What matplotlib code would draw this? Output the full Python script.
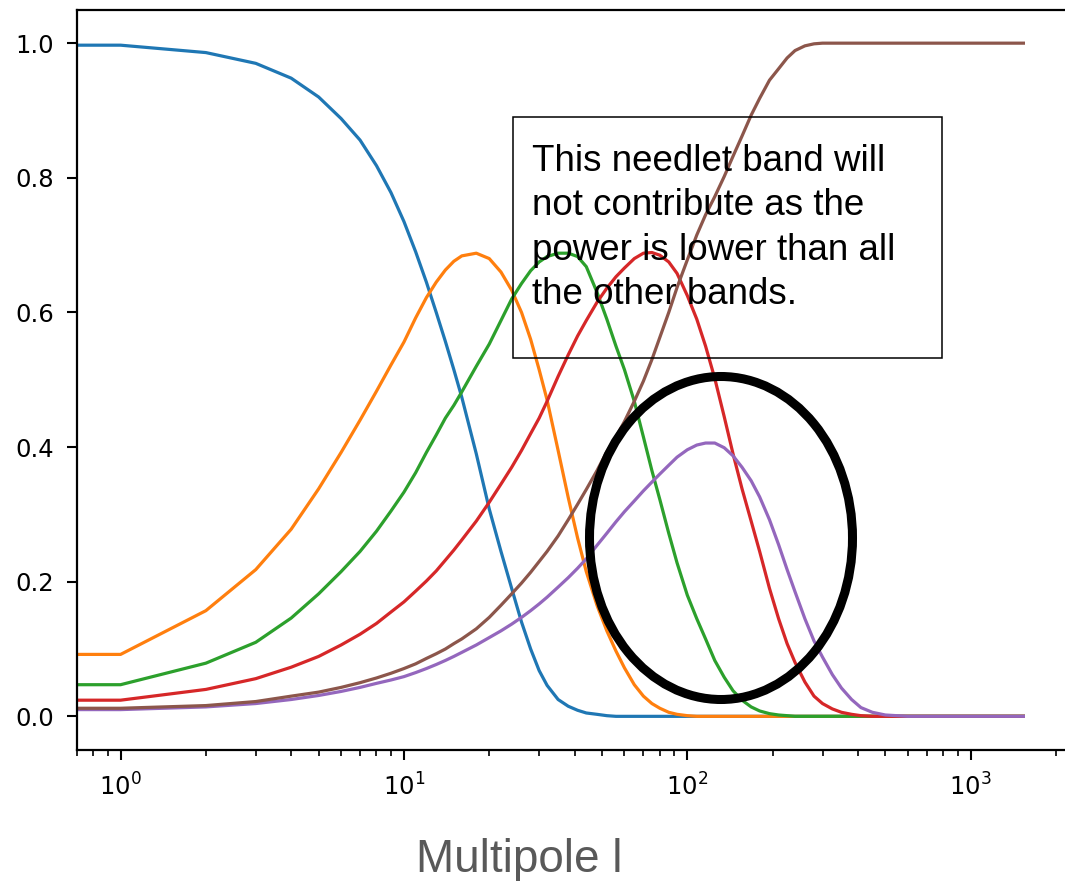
import numpy as np
import matplotlib
matplotlib.use("Agg")
import matplotlib.pyplot as plt
from matplotlib.patches import Ellipse, Rectangle

ell = [0, 1, 2, 3, 4, 5, 6, 7, 8, 9, 10, 11, 12, 13, 14, 15, 16, 18, 20, 22,
       24, 26, 28, 30, 32, 35, 38, 41, 44, 48, 52, 56, 60, 65, 70, 75, 80, 86,
       92, 100, 108, 116, 125, 135, 145, 156, 168, 180, 195, 210, 225, 240,
       260, 280, 300, 325, 350, 380, 410, 450, 500, 600, 800, 1000, 1535]

band0 = [0.997, 0.997, 0.986, 0.970, 0.948, 0.920, 0.888, 0.856, 0.818, 0.778,
         0.735, 0.690, 0.645, 0.600, 0.557, 0.515, 0.474, 0.390, 0.308, 0.245,
         0.190, 0.140, 0.100, 0.068, 0.046, 0.025, 0.015, 0.009, 0.005, 0.003,
         0.001, 0, 0, 0, 0, 0, 0, 0, 0, 0, 0, 0, 0, 0, 0, 0, 0, 0, 0, 0, 0, 0,
         0, 0, 0, 0, 0, 0, 0, 0, 0, 0, 0, 0, 0]
band1 = [0.092, 0.092, 0.157, 0.218, 0.278, 0.338, 0.392, 0.440, 0.483, 0.522,
         0.556, 0.592, 0.622, 0.645, 0.663, 0.676, 0.684, 0.688, 0.680, 0.660,
         0.633, 0.600, 0.560, 0.515, 0.470, 0.395, 0.325, 0.265, 0.215, 0.165,
         0.127, 0.097, 0.072, 0.047, 0.030, 0.019, 0.012, 0.006, 0.003, 0.001,
         0, 0, 0, 0, 0, 0, 0, 0, 0, 0, 0, 0, 0, 0, 0, 0, 0, 0, 0, 0, 0, 0, 0,
         0, 0]
band2 = [0.047, 0.047, 0.079, 0.110, 0.146, 0.182, 0.215, 0.245, 0.275, 0.305,
         0.333, 0.362, 0.392, 0.418, 0.443, 0.462, 0.482, 0.520, 0.553, 0.588,
         0.620, 0.643, 0.662, 0.675, 0.683, 0.688, 0.688, 0.683, 0.668, 0.630,
         0.590, 0.550, 0.515, 0.468, 0.415, 0.365, 0.322, 0.272, 0.228, 0.180,
         0.145, 0.115, 0.083, 0.058, 0.038, 0.024, 0.014, 0.008, 0.004, 0.002,
         0.001, 0, 0, 0, 0, 0, 0, 0, 0, 0, 0, 0, 0, 0, 0]
band3 = [0.024, 0.024, 0.040, 0.056, 0.073, 0.089, 0.106, 0.122, 0.138, 0.155,
         0.170, 0.186, 0.201, 0.216, 0.232, 0.247, 0.262, 0.290, 0.318, 0.345,
         0.370, 0.395, 0.420, 0.443, 0.468, 0.505, 0.537, 0.565, 0.588, 0.615,
         0.636, 0.653, 0.666, 0.680, 0.688, 0.689, 0.685, 0.675, 0.658, 0.625,
         0.590, 0.550, 0.502, 0.445, 0.390, 0.338, 0.290, 0.245, 0.190, 0.145,
         0.108, 0.080, 0.051, 0.030, 0.019, 0.011, 0.006, 0.003, 0.001, 0, 0,
         0, 0, 0, 0]
band4 = [0.010, 0.010, 0.014, 0.019, 0.025, 0.031, 0.037, 0.043, 0.049, 0.054,
         0.059, 0.065, 0.071, 0.077, 0.083, 0.089, 0.095, 0.106, 0.117, 0.127,
         0.137, 0.147, 0.157, 0.167, 0.177, 0.192, 0.206, 0.220, 0.234, 0.254,
         0.272, 0.289, 0.304, 0.320, 0.335, 0.348, 0.360, 0.373, 0.385, 0.396,
         0.403, 0.406, 0.406, 0.399, 0.387, 0.370, 0.350, 0.326, 0.292, 0.255,
         0.218, 0.185, 0.145, 0.112, 0.088, 0.062, 0.042, 0.025, 0.013, 0.006,
         0.002, 0, 0, 0, 0]
band5 = [0.012, 0.012, 0.016, 0.022, 0.030, 0.036, 0.043, 0.050, 0.057, 0.064,
         0.071, 0.078, 0.086, 0.093, 0.100, 0.108, 0.115, 0.130, 0.147, 0.165,
         0.182, 0.198, 0.214, 0.230, 0.245, 0.268, 0.292, 0.315, 0.337, 0.365,
         0.393, 0.415, 0.438, 0.468, 0.498, 0.530, 0.563, 0.600, 0.637, 0.678,
         0.715, 0.745, 0.772, 0.802, 0.832, 0.862, 0.893, 0.918, 0.945, 0.962,
         0.978, 0.989, 0.996, 0.999, 1.0, 1.0, 1.0, 1.0, 1.0, 1.0, 1.0, 1.0,
         1.0, 1.0, 1.0]

note_lines = ["This needlet band will",
              "not contribute as the",
              "power is lower than all",
              "the other bands."]

W, H = 1065, 881
fig = plt.figure(figsize=(W / 100, H / 100), dpi=100)
ax = fig.add_axes([76.7 / W, 131 / H, 1001.7 / W, 740.5 / H])

for band in [band0, band1, band2, band3, band4, band5]:
    ax.plot(ell, band, linewidth=2.3)

ax.set_xscale("log")
ax.set_xlim(0.7, 2400)
ax.set_ylim(-0.05, 1.05)
ax.set_yticks([0.0, 0.2, 0.4, 0.6, 0.8, 1.0])
ax.tick_params(which="major", labelsize=17.5, length=7.5, width=1.5, pad=9)
ax.tick_params(which="minor", length=4.5, width=1.2)
for sp in ax.spines.values():
    sp.set_linewidth(1.6)

# annotation box and circle, in figure pixels
fig.add_artist(Rectangle((513 / W, 1 - 358 / H), 429 / W, 241 / H,
                         transform=fig.transFigure, fill=False,
                         edgecolor="black", linewidth=1.1))
for i, line in enumerate(note_lines):
    fig.text(532 / W, 1 - (171 + 44.3 * i) / H, line, fontsize=26.5,
             family="Liberation Sans", va="baseline", ha="left")
fig.add_artist(Ellipse((721 / W, 1 - 538 / H), 263 / W, 323 / H,
                       transform=fig.transFigure, fill=False,
                       edgecolor="black", linewidth=6.5))

fig.text(519 / W, 1 - 872 / H, "Multipole l", fontsize=33,
         family="Liberation Sans", color="#595959", ha="center", va="baseline")

fig.savefig("out.png", dpi=100)
